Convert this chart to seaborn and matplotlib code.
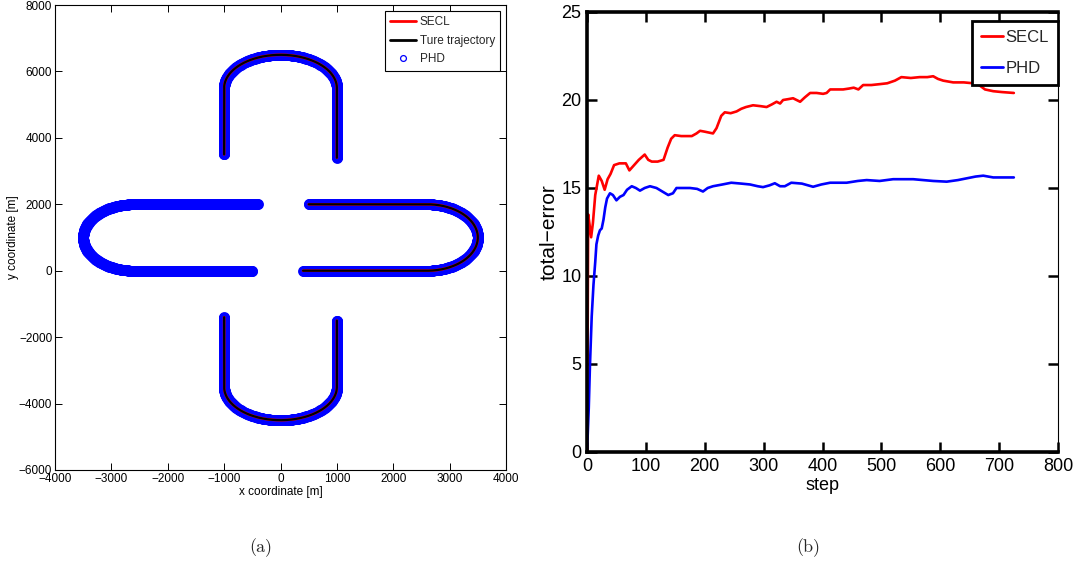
import numpy as np
import matplotlib
matplotlib.use("Agg")
import matplotlib.pyplot as plt
from matplotlib.lines import Line2D
import seaborn as sns

# ---------------- data: panel (a) track geometry ----------------
# straight segments: (x0, y0, x1, y1); arcs: (cx, cy, rx, ry, a0_deg, a1_deg)
top_left_line = [-1000, 3500, -1000, 5500]
top_arc = [0, 5500, 1000, 1000, 180, 0]
top_right_line = [1000, 5500, 1000, 3400]

right_top_line = [500, 2000, 2600, 2000]
right_arc = [2600, 1000, 900, 1000, 90, -90]
right_bottom_line = [2600, 0, 400, 0]

bottom_left_line = [-1000, -1400, -1000, -3500]
bottom_arc = [0, -3500, 1000, 1000, 180, 360]
bottom_right_line = [1000, -3500, 1000, -1500]

left_top_line = [-400, 2000, -2600, 2000]
left_arc = [-2600, 1000, 900, 1000, 90, 270]
left_bottom_line = [-2600, 0, -500, 0]

# ---------------- data: panel (b) error curves ----------------
secl_step = [0, 1, 2, 4, 7, 10, 14, 20, 25, 30, 35, 40, 46, 55, 66, 72, 80, 88, 98,
             104, 110, 120, 130, 137, 143, 149, 160, 178, 186, 192, 200, 214, 220,
             228, 234, 244, 254, 262, 270, 282, 295, 305, 314, 322, 328, 333, 342,
             350, 362, 370, 379, 390, 401, 407, 413, 425, 435, 445, 453, 461, 469,
             483, 497, 510, 523, 534, 550, 565, 578, 588, 596, 605, 622, 640, 656,
             666, 676, 690, 705, 725]
secl_err = [0.0, 6.0, 13.5, 13.0, 12.2, 13.0, 14.6, 15.7, 15.4, 14.9, 15.5, 15.8,
            16.3, 16.4, 16.4, 16.0, 16.3, 16.6, 16.9, 16.6, 16.5, 16.5, 16.6, 17.3,
            17.8, 18.0, 17.95, 17.95, 18.1, 18.25, 18.2, 18.1, 18.4, 19.1, 19.3,
            19.25, 19.35, 19.5, 19.6, 19.7, 19.65, 19.6, 19.75, 19.9, 19.8, 20.0,
            20.05, 20.1, 19.9, 20.15, 20.4, 20.4, 20.35, 20.4, 20.6, 20.6, 20.6,
            20.65, 20.7, 20.6, 20.85, 20.85, 20.9, 20.95, 21.1, 21.3, 21.25, 21.3,
            21.3, 21.35, 21.2, 21.1, 21.0, 21.0, 20.95, 20.85, 20.6, 20.5, 20.45,
            20.4]

phd_step = [0, 1, 3, 5, 8, 11, 14, 16, 19, 22, 25, 28, 31, 34, 39, 44, 50, 56, 62,
            68, 76, 83, 90, 98, 107, 118, 128, 138, 146, 152, 165, 175, 187, 197,
            205, 214, 230, 245, 262, 277, 290, 299, 310, 319, 328, 336, 347, 365,
            384, 398, 413, 441, 460, 475, 497, 520, 554, 588, 611, 630, 645, 660,
            673, 690, 725]
phd_err = [0.2, 0.8, 2.5, 4.9, 7.7, 9.5, 10.8, 11.8, 12.3, 12.6, 12.7, 13.2, 13.9,
           14.4, 14.7, 14.6, 14.3, 14.5, 14.6, 14.9, 15.1, 15.0, 14.85, 15.0, 15.1,
           15.0, 14.8, 14.6, 14.7, 15.0, 15.0, 15.0, 14.95, 14.8, 15.0, 15.1, 15.2,
           15.3, 15.25, 15.2, 15.1, 15.05, 15.15, 15.27, 15.1, 15.1, 15.3, 15.25,
           15.07, 15.2, 15.3, 15.3, 15.4, 15.45, 15.4, 15.5, 15.5, 15.4, 15.36,
           15.45, 15.55, 15.65, 15.7, 15.6, 15.6]

x_ticks_a = [-4000, -3000, -2000, -1000, 0, 1000, 2000, 3000, 4000]
y_ticks_a = [-6000, -4000, -2000, 0, 2000, 4000, 6000, 8000]
x_ticks_b = [0, 100, 200, 300, 400, 500, 600, 700, 800]
y_ticks_b = [0, 5, 10, 15, 20, 25]


def seg_line(s, step=12.0):
    x0, y0, x1, y1 = s
    n = max(2, int(np.hypot(x1 - x0, y1 - y0) / step) + 1)
    return np.linspace(x0, x1, n), np.linspace(y0, y1, n)


def seg_arc(a, step=12.0):
    cx, cy, rx, ry, a0, a1 = a
    n = max(2, int(abs(np.radians(a1 - a0)) * max(rx, ry) / step) + 1)
    t = np.radians(np.linspace(a0, a1, n))
    return cx + rx * np.cos(t), cy + ry * np.sin(t)


def track(parts):
    xs, ys = [], []
    for kind, p in parts:
        x, y = seg_line(p) if kind == "l" else seg_arc(p)
        xs.append(x)
        ys.append(y)
    return np.concatenate(xs), np.concatenate(ys)


tracks_true = [
    track([("l", top_left_line), ("a", top_arc), ("l", top_right_line)]),
    track([("l", right_top_line), ("a", right_arc), ("l", right_bottom_line)]),
    track([("l", bottom_left_line), ("a", bottom_arc), ("l", bottom_right_line)]),
]
track_left = track([("l", left_top_line), ("a", left_arc), ("l", left_bottom_line)])
tracks_phd = tracks_true + [track_left]

# ---------------- style ----------------
sns.set_theme(style="white")
sans = ["Liberation Sans Narrow", "Liberation Sans", "DejaVu Sans"]
plt.rcParams["font.family"] = sans
plt.rcParams["axes.unicode_minus"] = True

fig = plt.figure(figsize=(10.78, 5.67), dpi=100)
W, H = 1078.0, 567.0
ax1 = fig.add_axes([55 / W, 1 - 470 / H, 451 / W, 465 / H])
ax2 = fig.add_axes([587 / W, 1 - 452 / H, 471 / W, 440 / H])

# ---------------- panel (a) ----------------
for x, y in tracks_phd:
    sns.lineplot(x=x, y=y, ax=ax1, sort=False, estimator=None, linestyle="none",
                 marker="o", markersize=6.2, markerfacecolor="none",
                 markeredgecolor="#0000ff", markeredgewidth=1.6, zorder=1)
for x, y in tracks_true:
    sns.lineplot(x=x, y=y, ax=ax1, sort=False, estimator=None, color="#ff0000",
                 linewidth=1.9, zorder=2)
    sns.lineplot(x=x, y=y, ax=ax1, sort=False, estimator=None, color="black",
                 linewidth=1.6, zorder=3)

ax1.set_xlim(-4000, 4000)
ax1.set_ylim(-6000, 8000)
ax1.set_xticks(x_ticks_a)
ax1.set_yticks(y_ticks_a)
ax1.tick_params(direction="in", length=5, width=0.7, colors="black", labelsize=8.5,
                top=True, right=True, bottom=True, left=True, pad=2)
for sp in ax1.spines.values():
    sp.set_color("black")
    sp.set_linewidth(0.8)
ax1.set_xlabel("x coordinate [m]", fontsize=8.5, labelpad=1, color="black")
ax1.set_ylabel("y coordinate [m]", fontsize=8.5, labelpad=0, color="black")

h_a = [Line2D([], [], color="#ff0000", lw=2),
       Line2D([], [], color="black", lw=2),
       Line2D([], [], color="#0000ff", lw=0, marker="o", markersize=4.2,
              markerfacecolor="none", markeredgewidth=0.9)]
leg1 = ax1.legend(h_a, ["SECL", "Ture trajectory", "PHD"], loc="upper right",
                  bbox_to_anchor=(1.0, 1.0), borderaxespad=0.5, fontsize=8.5,
                  frameon=True, fancybox=False, framealpha=1, edgecolor="black",
                  handlelength=2.2, handletextpad=0.3, labelspacing=0.55,
                  borderpad=0.45)
leg1.get_frame().set_linewidth(0.8)

# ---------------- panel (b) ----------------
sns.lineplot(x=secl_step, y=secl_err, ax=ax2, color="#ff0000", linewidth=1.9,
             estimator=None, sort=False)
sns.lineplot(x=phd_step, y=phd_err, ax=ax2, color="#0000ff", linewidth=1.9,
             estimator=None, sort=False)
ax2.set_xlim(0, 800)
ax2.set_ylim(0, 25)
ax2.set_xticks(x_ticks_b)
ax2.set_yticks(y_ticks_b)
ax2.tick_params(direction="in", length=7, width=1.8, colors="black", labelsize=13,
                top=True, right=True, bottom=True, left=True, pad=4)
for name, sp in ax2.spines.items():
    sp.set_color("black")
    sp.set_linewidth(0.8 if name == "right" else 2.6)
ax2.set_xlabel("step", fontsize=13, labelpad=2, color="black")
ax2.set_ylabel("total\u2212error", fontsize=15, labelpad=2, color="black")

h_b = [Line2D([], [], color="#ff0000", lw=2), Line2D([], [], color="#0000ff", lw=2)]
leg2 = ax2.legend(h_b, ["SECL", "PHD"], loc="upper right",
                  bbox_to_anchor=(1.0, 1 - 9 / 440), borderaxespad=0.0, fontsize=12,
                  frameon=True, fancybox=False, framealpha=1, edgecolor="black",
                  handlelength=1.3, handletextpad=0.15, labelspacing=0.95,
                  borderpad=0.55)
leg2.get_frame().set_linewidth(2.0)

# ---------------- captions ----------------
fig.text(261 / W, 1 - 548 / H, "(a)", ha="center", va="center", fontsize=13,
         family=["cmr10", "DejaVu Serif"])
fig.text(808 / W, 1 - 548 / H, "(b)", ha="center", va="center", fontsize=13,
         family=["cmr10", "DejaVu Serif"])

fig.savefig("out.png", dpi=100, facecolor="white")
